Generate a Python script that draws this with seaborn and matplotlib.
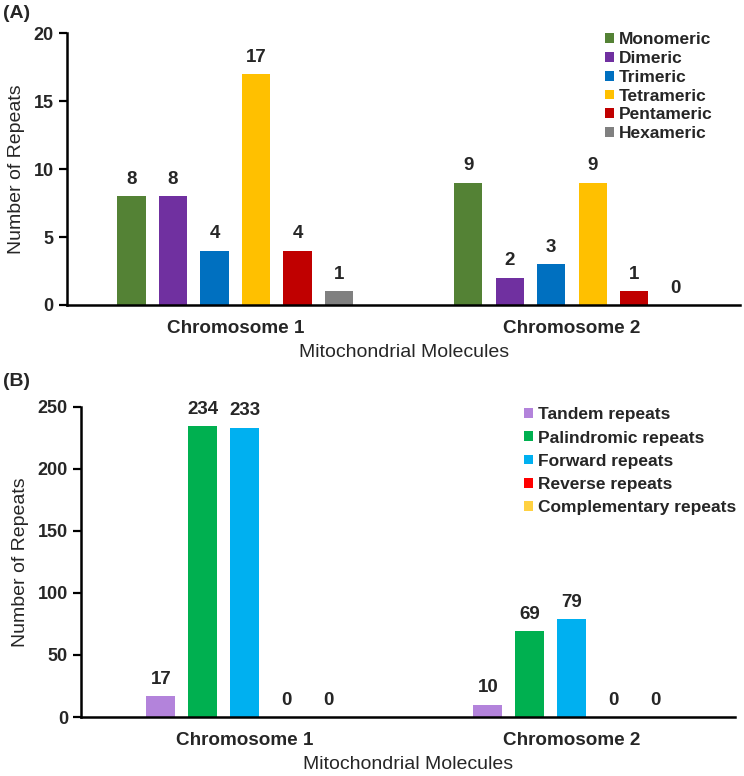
import matplotlib
matplotlib.use("Agg")
import matplotlib.pyplot as plt
import seaborn as sns
import pandas as pd

sns.set_theme(style="white")
plt.rcParams['font.family'] = ['Liberation Sans', 'DejaVu Sans']

chromosomes = ["Chromosome 1", "Chromosome 2"]

# Panel A
ssr_types = ["Monomeric", "Dimeric", "Trimeric", "Tetrameric", "Pentameric", "Hexameric"]
ssr_chr1 = [8, 8, 4, 17, 4, 1]
ssr_chr2 = [9, 2, 3, 9, 1, 0]
ssr_colors = ["#548235", "#7030A0", "#0070C0", "#FFC000", "#C00000", "#808080"]

# Panel B
rep_types = ["Tandem repeats", "Palindromic repeats", "Forward repeats",
             "Reverse repeats", "Complementary repeats"]
rep_chr1 = [17, 234, 233, 0, 0]
rep_chr2 = [10, 69, 79, 0, 0]
rep_colors = ["#B383DB", "#00B050", "#00B0F0", "#FF0000", "#FFD141"]

df_a = pd.DataFrame({
    "chrom": [chromosomes[0]] * len(ssr_types) + [chromosomes[1]] * len(ssr_types),
    "type": ssr_types * 2,
    "value": ssr_chr1 + ssr_chr2,
})
df_b = pd.DataFrame({
    "chrom": [chromosomes[0]] * len(rep_types) + [chromosomes[1]] * len(rep_types),
    "type": rep_types * 2,
    "value": rep_chr1 + rep_chr2,
})

fig = plt.figure(figsize=(7.44, 7.76), dpi=100)
ax_a = fig.add_axes([0.090, 0.607, 0.905, 0.350])
ax_b = fig.add_axes([0.109, 0.076, 0.879, 0.400])


def style(ax, df, order, colors, width, gap, ymax, yticks, legend_anchor, legend_spacing):
    sns.barplot(data=df, x="chrom", y="value", hue="type", hue_order=order,
                palette=colors, width=width, gap=gap, ax=ax, saturation=1,
                edgecolor="none", linewidth=0)
    for c in ax.containers:
        ax.bar_label(c, fmt="%d", padding=6, fontsize=13.5, fontweight="bold")
    ax.set_xlim(-0.5, 1.5)
    ax.set_ylim(0, ymax)
    ax.set_yticks(yticks)
    ax.set_xticks([-0.5, 0.5, 1.5], minor=True)
    ax.tick_params(axis="x", which="major", length=0, pad=11, labelsize=13.6)
    ax.tick_params(axis="x", which="minor", length=6, width=1.6, direction="out", color="black")
    ax.tick_params(axis="y", length=6, width=1.6, direction="out", color="black", labelsize=13, left=True)
    for lbl in ax.get_xticklabels() + ax.get_yticklabels():
        lbl.set_fontweight("bold")
    for s in ["top", "right"]:
        ax.spines[s].set_visible(False)
    for s in ["left", "bottom"]:
        ax.spines[s].set_color("black")
        ax.spines[s].set_linewidth(1.8)
    ax.set_xlabel("Mitochondrial Molecules", fontsize=14, labelpad=5)
    ax.set_ylabel("Number of Repeats", fontsize=14, labelpad=6)
    leg = ax.legend(loc="upper left", bbox_to_anchor=legend_anchor, frameon=False,
                    handlelength=0.5, handleheight=0.5, handletextpad=0.3,
                    labelspacing=legend_spacing, borderaxespad=0,
                    prop={"weight": "bold", "size": 12.5})
    return leg


style(ax_a, df_a, ssr_types, ssr_colors, 0.74, 0.32, 20, [0, 5, 10, 15, 20],
      (0.789, 1.03), 0.22)
style(ax_b, df_b, rep_types, rep_colors, 0.64, 0.31, 250, [0, 50, 100, 150, 200, 250],
      (0.667, 1.02), 0.47)

fig.text(0.004, 0.983, "(A)", fontsize=14, fontweight="bold", va="center", ha="left")
fig.text(0.004, 0.509, "(B)", fontsize=14, fontweight="bold", va="center", ha="left")

fig.savefig("out.png", dpi=100)
